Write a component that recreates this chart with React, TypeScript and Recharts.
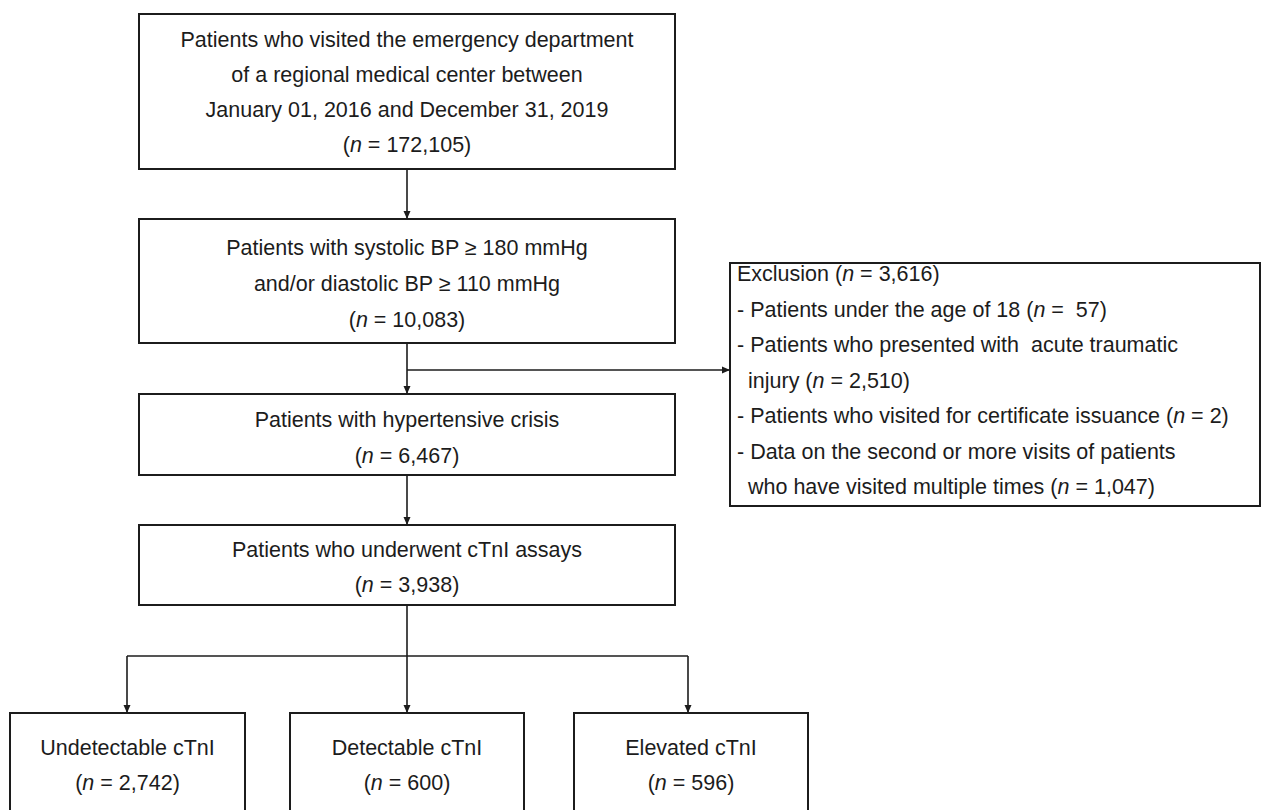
import React from 'react';
import { ScatterChart, Scatter, XAxis, YAxis, ReferenceArea, ReferenceLine } from 'recharts';

const W = 1262;
const H = 810;

// ---------- content ----------
const stepTitles: string[][] = [
  ['Patients who visited the emergency department', 'of a regional medical center between', 'January 01, 2016 and December 31, 2019'],
  ['Patients with systolic BP \u2265 180 mmHg', 'and/or diastolic BP \u2265 110 mmHg'],
  ['Patients with hypertensive crisis'],
  ['Patients who underwent cTnI assays'],
];
const stepCounts: number[] = [172105, 10083, 6467, 3938];

const exclusionTotal = 3616;
const exclusionReasonText: string[][] = [
  ['Patients under the age of 18'],
  ['Patients who presented with  acute traumatic', 'injury'],
  ['Patients who visited for certificate issuance'],
  ['Data on the second or more visits of patients', 'who have visited multiple times'],
];
const exclusionCounts: number[] = [57, 2510, 2, 1047];
// the original text has a doubled space before "57"
const exclusionCountPrefix: string[] = ['  ', ' ', ' ', ' '];

const outcomeNames: string[] = ['Undetectable cTnI', 'Detectable cTnI', 'Elevated cTnI'];
const outcomeCounts: number[] = [2742, 600, 596];

// ---------- layout (diagram coordinates) ----------
const stepBoxes = [
  { x1: 139, x2: 675, y1: 14, y2: 169 },
  { x1: 139, x2: 675, y1: 219, y2: 343 },
  { x1: 139, x2: 675, y1: 394, y2: 475 },
  { x1: 139, x2: 675, y1: 525, y2: 605 },
];
const stepRows: number[][] = [
  [40, 75, 110, 145],
  [248, 284, 320],
  [420, 456],
  [550, 585],
];
const exclusionBox = { x1: 730, x2: 1260, y1: 263, y2: 506 };
const exclusionTextX = 737;
const exclusionIndentX = 748;
const exclusionRowStart = 274;
const exclusionRowStep = 35.5;

const outcomeBoxes = [
  { x1: 10, x2: 245, y1: 713, y2: 840 },
  { x1: 290, x2: 524, y1: 713, y2: 840 },
  { x1: 574, x2: 808, y1: 713, y2: 840 },
];
const outcomeRows: number[] = [748, 783];

const mainX = 407;
const connectors = [
  [{ x: mainX, y: 169 }, { x: mainX, y: 219 }],
  [{ x: mainX, y: 343 }, { x: mainX, y: 394 }],
  [{ x: mainX, y: 370 }, { x: 730, y: 370 }],
  [{ x: mainX, y: 475 }, { x: mainX, y: 525 }],
  [{ x: mainX, y: 605 }, { x: mainX, y: 713 }],
  [{ x: 127, y: 656 }, { x: 688, y: 656 }],
  [{ x: 127, y: 656 }, { x: 127, y: 713 }],
  [{ x: 688, y: 656 }, { x: 688, y: 713 }],
];
const arrowHeads = [
  { x: mainX, y: 219, dir: 'down' },
  { x: mainX, y: 394, dir: 'down' },
  { x: 730, y: 370, dir: 'right' },
  { x: mainX, y: 525, dir: 'down' },
  { x: 127, y: 713, dir: 'down' },
  { x: mainX, y: 713, dir: 'down' },
  { x: 688, y: 713, dir: 'down' },
];

const fmt = (n: number) => n.toLocaleString('en-US');

type Lbl = { x: number; y: number; text: string; anchor: 'start' | 'middle' };

const labels: Lbl[] = [];
stepTitles.forEach((lines, i) => {
  const b = stepBoxes[i];
  const cx = (b.x1 + b.x2) / 2;
  const all = [...lines, `(*n* = ${fmt(stepCounts[i])})`];
  all.forEach((t, j) => labels.push({ x: cx, y: stepRows[i][j], text: t, anchor: 'middle' }));
});
{
  let row = 0;
  labels.push({ x: exclusionTextX, y: exclusionRowStart, text: `Exclusion (*n* = ${fmt(exclusionTotal)})`, anchor: 'start' });
  row++;
  exclusionReasonText.forEach((lines, i) => {
    const cStr = exclusionCountPrefix[i] + fmt(exclusionCounts[i]);
    lines.forEach((t, j) => {
      const last = j === lines.length - 1;
      const text = (j === 0 ? '- ' : '') + t + (last ? ` (*n* =${cStr})` : '');
      labels.push({
        x: j === 0 ? exclusionTextX : exclusionIndentX,
        y: exclusionRowStart + row * exclusionRowStep,
        text,
        anchor: 'start',
      });
      row++;
    });
  });
}
outcomeNames.forEach((name, i) => {
  const b = outcomeBoxes[i];
  const cx = (b.x1 + b.x2) / 2;
  labels.push({ x: cx, y: outcomeRows[0], text: name, anchor: 'middle' });
  labels.push({ x: cx, y: outcomeRows[1], text: `(*n* = ${fmt(outcomeCounts[i])})`, anchor: 'middle' });
});

const INK = '#1c1c1c';
const FONT = '"Liberation Sans", Arial, Helvetica, sans-serif';

const TextShape = (props: any) => {
  const { cx, cy, payload } = props;
  const parts = String(payload.text).split('*');
  return (
    <text
      x={cx}
      y={cy}
      textAnchor={payload.anchor}
      dominantBaseline="central"
      fontFamily={FONT}
      fontSize={21.5}
      fill={INK}
      style={{ whiteSpace: 'pre' }}
    >
      {parts.map((p, k) => (
        <tspan key={k} fontStyle={k % 2 === 1 ? 'italic' : 'normal'}>
          {p}
        </tspan>
      ))}
    </text>
  );
};

const ArrowShape = (props: any) => {
  const { cx, cy, payload } = props;
  const pts =
    payload.dir === 'right'
      ? `${cx},${cy} ${cx - 8},${cy - 3.5} ${cx - 8},${cy + 3.5}`
      : `${cx},${cy} ${cx - 3.5},${cy - 8} ${cx + 3.5},${cy - 8}`;
  return <polygon points={pts} fill={INK} />;
};

export default function App() {
  const allBoxes = [...stepBoxes, exclusionBox, ...outcomeBoxes];
  return (
    <div style={{ position: 'absolute', left: 0, top: 0, width: W, height: H, background: '#fff' }}>
      <ScatterChart width={W} height={H} margin={{ top: 0, right: 0, bottom: 0, left: 0 }}>
        <XAxis type="number" dataKey="x" domain={[0, W]} hide allowDataOverflow />
        <YAxis type="number" dataKey="y" domain={[0, H]} reversed hide allowDataOverflow />
        {allBoxes.map((b, i) => (
          <ReferenceArea
            key={`b${i}`}
            x1={b.x1}
            x2={b.x2}
            y1={b.y1}
            y2={b.y2}
            fill="#ffffff"
            fillOpacity={1}
            stroke={INK}
            strokeWidth={2}
            ifOverflow="hidden"
          />
        ))}
        {connectors.map((s, i) => (
          <ReferenceLine key={`c${i}`} segment={s} stroke={INK} strokeWidth={1.6} ifOverflow="visible" />
        ))}
        <Scatter data={arrowHeads} shape={ArrowShape} isAnimationActive={false} />
        <Scatter data={labels} shape={TextShape} isAnimationActive={false} />
      </ScatterChart>
    </div>
  );
}
